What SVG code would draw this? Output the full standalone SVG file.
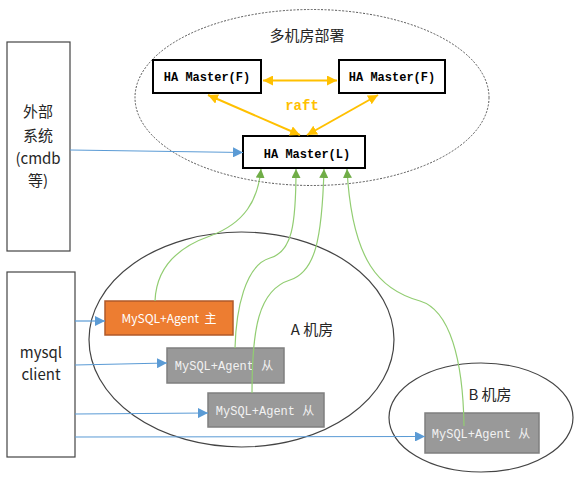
<svg xmlns="http://www.w3.org/2000/svg" width="583" height="482" viewBox="0 0 583 482">
<defs>
<style>
.lbl{font-family:"Noto Sans CJK SC","Liberation Sans",sans-serif;font-size:15px;fill:#262626;}
.ha{fill:#fff;stroke:#000;stroke-width:2;}
.hat{font-family:"Liberation Mono",monospace;font-weight:bold;font-size:12px;fill:#000;text-anchor:middle;}
.gray{fill:#999999;stroke:#7f7f7f;stroke-width:1.5;}
.grayt{font-family:"Liberation Mono","Noto Sans CJK SC",monospace;font-size:12px;fill:#f2f2f2;text-anchor:middle;}
.blue{fill:none;stroke:#5b9bd5;stroke-width:1.2;marker-end:url(#ab);}
.green{fill:none;stroke:#92cd72;stroke-width:1.2;marker-end:url(#ag);}
.yel{fill:none;stroke:#ffc000;stroke-width:2;marker-start:url(#ays);marker-end:url(#ay);}
</style>
<marker id="ab" viewBox="0 0 10 10" refX="10" refY="5" markerWidth="10" markerHeight="10" markerUnits="userSpaceOnUse" orient="auto"><path d="M0,0 L10,5 L0,10 z" fill="#5b9bd5"/></marker>
<marker id="ag" viewBox="0 0 10 10" refX="10" refY="5" markerWidth="9" markerHeight="9" markerUnits="userSpaceOnUse" orient="auto"><path d="M0,0 L10,5 L0,10 z" fill="#70ad47"/></marker>
<marker id="ay" viewBox="0 0 10 10" refX="10" refY="5" markerWidth="10" markerHeight="10" markerUnits="userSpaceOnUse" orient="auto"><path d="M0,0 L10,5 L0,10 z" fill="#ffc000"/></marker>
<marker id="ays" viewBox="0 0 10 10" refX="0" refY="5" markerWidth="10" markerHeight="10" markerUnits="userSpaceOnUse" orient="auto"><path d="M10,0 L0,5 L10,10 z" fill="#ffc000"/></marker>
</defs>
<rect width="583" height="482" fill="#fff"/>

<g id="zone-multi">
<ellipse cx="312" cy="97.5" rx="177" ry="88" fill="none" stroke="#555" stroke-width="1" stroke-dasharray="2,1.5"/>
<text class="lbl" x="307" y="41" text-anchor="middle">多机房部署</text>
</g>
<g id="zone-a">
<ellipse cx="241.5" cy="339.5" rx="152.5" ry="107.5" fill="none" stroke="#444" stroke-width="1.2"/>
<text class="lbl" x="312" y="335" text-anchor="middle">A 机房</text>
</g>
<g id="zone-b">
<ellipse cx="481" cy="417.5" rx="92" ry="54.5" fill="none" stroke="#444" stroke-width="1.2"/>
<text class="lbl" x="490" y="400" text-anchor="middle">B 机房</text>
</g>

<g id="ext">
<rect x="7" y="42" width="63" height="209" fill="#fff" stroke="#444" stroke-width="1.2"/>
<text class="lbl" x="38" y="117" text-anchor="middle">外部</text>
<text class="lbl" x="38" y="141" text-anchor="middle">系统</text>
<text class="lbl" x="38" y="164" text-anchor="middle">(cmdb</text>
<text class="lbl" x="38" y="186" text-anchor="middle">等)</text>
</g>
<g id="client">
<rect x="7" y="272" width="68" height="185" fill="#fff" stroke="#444" stroke-width="1.2"/>
<text class="lbl" x="41" y="358" text-anchor="middle">mysql</text>
<text class="lbl" x="41" y="380" text-anchor="middle">client</text>
</g>

<g id="haf1">
<rect class="ha" x="153" y="60" width="108" height="33"/>
<text class="hat" x="207" y="81">HA Master(F)</text>
</g>
<g id="haf2">
<rect class="ha" x="339" y="60" width="106" height="33"/>
<text class="hat" x="392" y="81">HA Master(F)</text>
</g>
<g id="hal">
<rect class="ha" x="243" y="136" width="122" height="32"/>
<text class="hat" x="307" y="158">HA Master(L)</text>
</g>
<text x="302" y="110" text-anchor="middle" font-family="Liberation Mono, monospace" font-weight="bold" font-size="14" fill="#ffc000">raft</text>

<g id="master">
<rect x="105" y="301" width="128" height="34" fill="#ed7d31" stroke="#b0592a" stroke-width="1.5"/>
<text x="169" y="323" text-anchor="middle" font-family="Noto Sans CJK SC, Liberation Sans, sans-serif" font-size="12" fill="#fff">MySQL+Agent&#160;&#160;主</text>
</g>
<g id="slave1">
<rect class="gray" x="167" y="348" width="117" height="35"/>
<text class="grayt" x="224" y="370">MySQL+Agent 从</text>
</g>
<g id="slave2">
<rect class="gray" x="208" y="393" width="116" height="34"/>
<text class="grayt" x="265" y="415">MySQL+Agent 从</text>
</g>
<g id="slaveb">
<rect class="gray" x="425" y="413" width="114" height="40"/>
<text class="grayt" x="481" y="438">MySQL+Agent 从</text>
</g>

<g id="connectors">
<path class="yel" d="M263,80.5 L337,80.5"/>
<path class="yel" d="M208,95 L300,135"/>
<path class="yel" d="M378,95 L307,135"/>
<path class="blue" d="M70,150 L243,152.5"/>
<path class="blue" d="M75,321 L105,321"/>
<path class="blue" d="M75,365 L167,363"/>
<path class="blue" d="M75,414 L208,413"/>
<path class="blue" d="M75,437 L425,436.5"/>
<path class="green" d="M155,301 C156,275 170,250 210,236 C245,223 258,200 261,169"/>
<path class="green" d="M235,348 C236,310 245,265 270,258 C292,252 296,225 296,169"/>
<path class="green" d="M252,393 C252,330 258,290 290,280 C315,272 322,240 324,169"/>
<path class="green" d="M464,426 C463,360 450,310 420,301 C380,290 352,262 347,169"/>
</g>
</svg>
